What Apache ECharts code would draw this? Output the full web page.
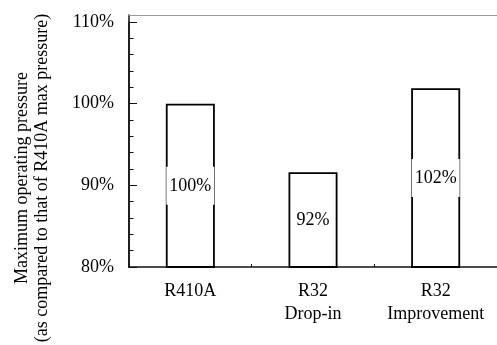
<!DOCTYPE html>
<html>
<head>
<meta charset="utf-8">
<script src="https://cdn.jsdelivr.net/npm/echarts@6/dist/echarts.min.js"></script>
<style>
  html, body { margin: 0; padding: 0; background: #fff; }
  #chart { width: 497px; height: 345px; }
</style>
</head>
<body>
<div id="chart"></div>
<script>
// Refrigerant comparison: maximum operating pressure relative to R410A
const categories = ['R410A', 'R32\nDrop-in', 'R32\nImprovement'];
const pressurePct = [100, 91.6, 101.9];
const yTitleLines = ['Maximum operating pressure', '(as compared to that of R410A max pressure)'];

const FONT = '"Liberation Serif", "Times New Roman", serif';
const INK = '#111';

const chart = echarts.init(document.getElementById('chart'), null, { renderer: 'canvas' });

chart.setOption({
  animation: false,
  backgroundColor: '#fff',
  textStyle: { fontFamily: FONT },
  grid: [
    { left: 129, top: 22, width: 375, bottom: 78 },
    // frame grid: carries the top border and the upper stretch of the y axis line
    { left: 129, top: 15, width: 375, bottom: 78 }
  ],
  xAxis: [
    {
      type: 'category',
      gridIndex: 0,
      data: categories,
      axisLine: { lineStyle: { color: INK, width: 1.5 } },
      axisTick: { show: true, inside: true, length: 3, lineStyle: { color: INK, width: 1 } },
      axisLabel: {
        interval: 0,
        color: '#000', fontFamily: FONT, fontSize: 18, lineHeight: 23, margin: 13
      }
    },
    {
      type: 'value',
      gridIndex: 1,
      position: 'top',
      min: 0, max: 1,
      axisLine: { show: true, onZero: false, lineStyle: { color: '#999', width: 1 } },
      axisTick: { show: false },
      axisLabel: { show: false },
      splitLine: { show: false }
    }
  ],
  yAxis: [
    {
      type: 'value',
      gridIndex: 0,
      min: 80, max: 110, interval: 10,
      axisLine: { show: true, lineStyle: { color: INK, width: 1.5 } },
      axisTick: { show: true, inside: true, length: 8, lineStyle: { color: INK, width: 1 } },
      minorTick: { show: true, splitNumber: 5, length: 4.5, lineStyle: { color: INK, width: 1 } },
      axisLabel: {
        color: '#000', fontFamily: FONT, fontSize: 18, margin: 15,
        formatter: '{value}%'
      },
      splitLine: { show: false }
    },
    {
      type: 'value',
      gridIndex: 1,
      position: 'left',
      min: 0, max: 1,
      axisLine: { show: true, onZero: false, lineStyle: { color: INK, width: 1.5 } },
      axisTick: { show: false },
      axisLabel: { show: false },
      splitLine: { show: false }
    }
  ],
  series: [
    {
      type: 'bar',
      xAxisIndex: 0,
      yAxisIndex: 0,
      data: pressurePct,
      barWidth: 49,
      itemStyle: { color: '#fff', borderColor: '#000', borderWidth: 1.8 },
      label: {
        show: true,
        position: 'inside',
        color: '#000',
        fontFamily: FONT,
        fontSize: 18,
        backgroundColor: '#fff',
        padding: [10, 3],
        formatter: p => Math.round(p.value) + '%'
      }
    }
  ],
  graphic: [
    {
      type: 'text',
      x: 32,
      y: 178,
      rotation: Math.PI / 2,
      style: {
        text: yTitleLines.join('\n'),
        font: '18px ' + FONT,
        fill: '#000',
        align: 'center',
        verticalAlign: 'middle',
        lineHeight: 20
      }
    }
  ]
});
</script>
</body>
</html>
